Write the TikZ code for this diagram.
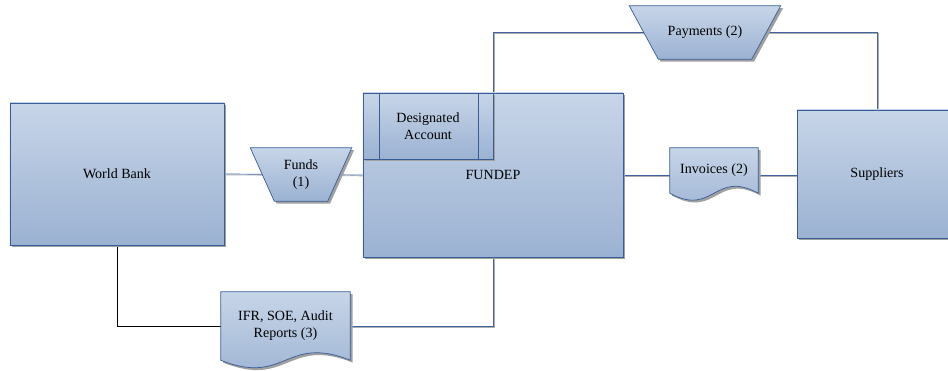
\documentclass[tikz,border=0pt]{standalone}
\usepackage{fontspec}
\setmainfont{Liberation Serif}
\usetikzlibrary{shadows, calc, backgrounds}

\definecolor{boxtop}{RGB}{199,213,232}
\definecolor{boxbot}{RGB}{155,178,210}
\definecolor{boxline}{RGB}{56,93,150}
\definecolor{shadowc}{RGB}{160,160,160}
\definecolor{connc}{RGB}{64,98,158}
\definecolor{conngray}{RGB}{175,175,175}

\pgfdeclarelayer{back}
\pgfsetlayers{back,background,main}

\tikzset{
  box/.style={rectangle, draw=boxline, line width=0.6pt, top color=boxtop, bottom color=boxbot,
    inner sep=0pt, align=center,
    drop shadow={shadow xshift=2pt, shadow yshift=-2pt, fill=shadowc, opacity=1}},
  area/.style={rectangle, inner sep=0pt, align=center},
  shapefill/.style={draw=boxline, line width=0.6pt, top color=boxtop, bottom color=boxbot},
  shapeshadow/.style={fill=shadowc, transform canvas={shift={(2pt,-2pt)}}},
  conn/.style={draw=connc, line width=0.6pt,
    preaction={draw=conngray, line width=0.6pt, transform canvas={shift={(0.8pt,-0.8pt)}}}},
}

% document: flat top, wavy bottom
\newcommand{\docpath}[2]{(#1.north west) -- (#1.north east) -- (#1.south east)
  .. controls ($(#1.south)+(0,-#2)$) and ($(#1.south)+(0,#2)$) .. (#1.south west) -- cycle}
% manual operation: wide top, narrow bottom
\newcommand{\funnelpath}[2]{(#1.north west) -- (#1.north east) -- ($(#1.south east)+(-#2,0)$)
  -- ($(#1.south west)+(#2,0)$) -- cycle}

\begin{document}
\begin{tikzpicture}[x=0.03cm, y=-0.03cm, font=\rmfamily\fontsize{12}{14.5}\selectfont]
	\useasboundingbox (0,0) rectangle (948,371);
	
	\node[box, minimum width=6.42cm, minimum height=4.26cm] (wb) at (117,174) {World Bank};
	\node[box, minimum width=7.8cm, minimum height=4.92cm] (fundep) at (493,175) {FUNDEP};
	\node[box, minimum width=3.9cm, minimum height=1.98cm] (da) at (428,126) {Designated\\Account};
	\draw[boxline, line width=0.6pt] ($(da.north west)+(17,0)$) -- ($(da.south west)+(17,0)$);
	\draw[boxline, line width=0.6pt] ($(da.north east)+(-15,0)$) -- ($(da.south east)+(-15,0)$);
	\node[box, minimum width=4.8cm, minimum height=3.84cm] (sup) at (877,174) {Suppliers};
	
	\node[area, minimum width=3.03cm, minimum height=1.59cm] (funds) at (301,174.5) {Funds\\(1)};
	\node[area, minimum width=4.53cm, minimum height=1.59cm] (pay) at (705,32.5) {Payments (2)};
	\node[area, minimum width=2.64cm, minimum height=1.35cm] (inv) at (714,170.5) {Invoices (2)};
	\node[area, minimum width=3.87cm, minimum height=2.04cm] (ifr) at (285.5,326) {IFR, SOE, Audit\\Reports (3)};
	\begin{scope}[on background layer]
		\path[shapeshadow] \funnelpath{funds}{24};
		\path[shapefill] \funnelpath{funds}{24};
		\path[shapeshadow] \funnelpath{pay}{29};
		\path[shapefill] \funnelpath{pay}{29};
		\path[shapeshadow] \docpath{inv}{24};
		\path[shapefill] \docpath{inv}{24};
		\path[shapeshadow] \docpath{ifr}{26};
		\path[shapefill] \docpath{ifr}{26};
	\end{scope}
	
	\begin{pgfonlayer}{back}
		\draw[conn] (wb.east) -- (funds.center);
		\draw[conn] (funds.center) -- (fundep.west);
		\draw[conn] (fundep.north) |- (pay.center);
		\draw[conn] (pay.center) -| (sup.north);
		\draw[conn] (fundep.east) -- (fundep.east -| inv.west);
		\draw[conn] (inv.east |- fundep.east) -- (fundep.east -| sup.west);
		\draw[black, line width=0.6pt] (wb.south) |- (ifr.west);
		\draw[conn] (ifr.east) -| (fundep.south);
	\end{pgfonlayer}
\end{tikzpicture}
\end{document}
